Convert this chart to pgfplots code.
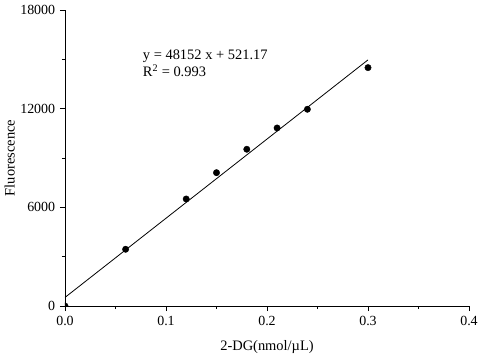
\documentclass[border=0pt]{standalone}
\usepackage{pgfplots}
\pgfplotsset{compat=1.18}
\usepackage{fontspec}
\setmainfont{Liberation Serif}
\begin{document}
\fontsize{14}{16}\selectfont
\begin{tikzpicture}
\useasboundingbox (-65bp,-54bp) rectangle (415bp,306bp);
\begin{axis}[
  at={(0,0)}, anchor=south west,
  scale only axis,
  width=404bp, height=296bp,
  xmin=0, xmax=0.4, ymin=0, ymax=18000,
  axis lines*=left,
  axis line style={line width=0.9pt},
  tick align=outside,
  tick style={black, line width=0.8pt},
  major tick length=5bp,
  minor tick length=3bp,
  xtick={0,0.1,0.2,0.3,0.4},
  ytick={0,6000,12000,18000},
  minor x tick num=1,
  minor y tick num=1,
  xticklabel style={/pgf/number format/fixed,/pgf/number format/fixed zerofill,/pgf/number format/precision=1},
  yticklabel style={/pgf/number format/1000 sep={}},
  scaled ticks=false,
  /pgf/number format/assume math mode=true,
  ticklabel style={font=\fontsize{14}{16}\selectfont},
  label style={font=\fontsize{14.5}{16}\selectfont},
  xlabel={2-DG(nmol/\textmu L)},
  ylabel={Fluorescence},
  xlabel style={yshift=-6bp},
  ylabel style={yshift=-4bp},
  clip=true,
  clip marker paths=true,
]
\addplot[only marks, mark=*, mark size=3.2bp, black] coordinates {
  (0,0) (0.06,3449) (0.12,6508) (0.15,8108) (0.18,9531) (0.21,10827) (0.24,11963) (0.30,14496)
};
\addplot[black, line width=0.8pt] coordinates {(0,521.17) (0.30,14966.8)};
\node[anchor=west, align=left, inner sep=0pt, font=\fontsize{14.5}{17}\selectfont] at (axis cs:0.077,14750) {y = 48152 x + 521.17\\R\textsuperscript{2} = 0.993};
\end{axis}
\end{tikzpicture}
\end{document}
